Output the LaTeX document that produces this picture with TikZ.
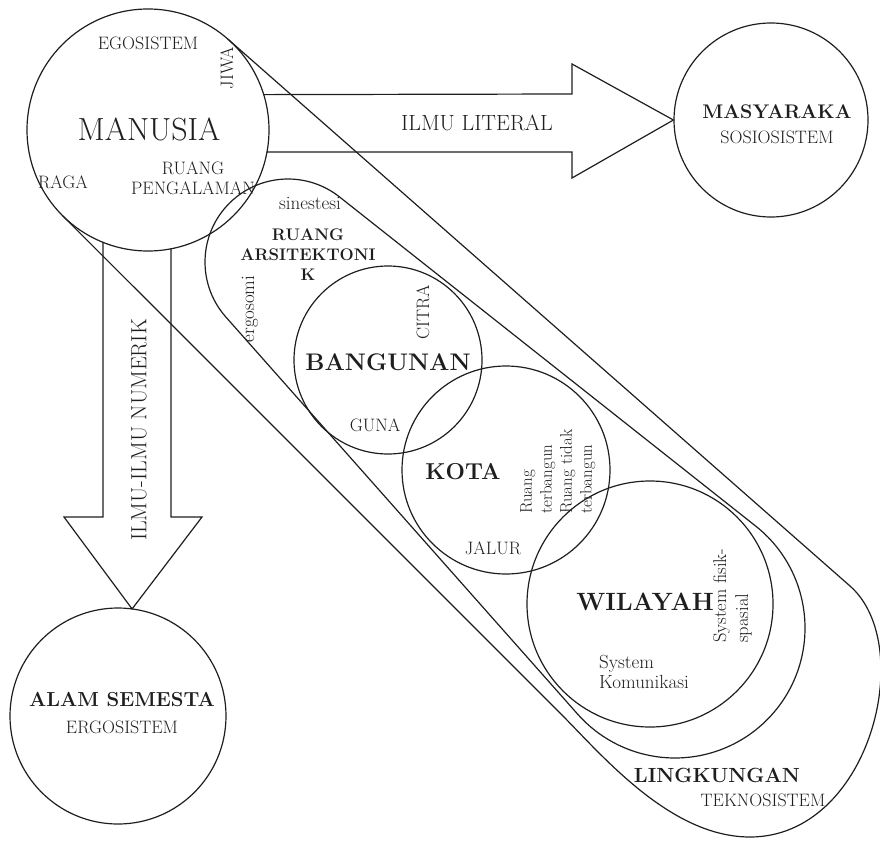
\documentclass[tikz,border=0pt]{standalone}
\usepackage{fontspec}
\usetikzlibrary{calc}
\definecolor{lkInk}{HTML}{1E1E1E}
\newcommand{\lkLineW}{1.2pt}
\newcommand{\lkFont}[2]{\fontsize{#1}{#2}\selectfont}
\tikzset{
  ring/.style={circle, draw=lkInk, line width=\lkLineW, minimum size=#1, inner sep=0pt},
  blockarr/.style={draw=lkInk, line width=\lkLineW, line join=miter},
  hull/.style={draw=lkInk, line width=\lkLineW},
  lbl/.style={text=lkInk, inner sep=0pt, font=\lkFont{18}{20}},
  small/.style={text=lkInk, inner sep=0pt, font=\lkFont{19}{20}},
  arrlbl/.style={text=lkInk, inner sep=0pt, font=\lkFont{22}{24}},
  ttl/.style={text=lkInk, inner sep=0pt, font=\bfseries\lkFont{#1}{24}},
}

\begin{document}
\begin{tikzpicture}[x=1pt, y=-1pt, line cap=round, line join=round]
  % page frame in pixel units (y grows downwards)
  \useasboundingbox (0,0) rectangle (880,840);

  % --- centres of the inner hull ends, ends of the outer hull ---
  \coordinate (ruangTop) at (288,262);
  \coordinate (ruangEnd) at (675,628);
  \coordinate (lingR) at (850,586);
  \coordinate (lingB) at (750,837);
  \coordinate (lingL) at (560,713);

  % --- circles ---
  \node[ring=242pt] (manusia) at (148,130) {};
  \node[ring=194pt] (masyaraka) at (771,120) {};
  \node[ring=216pt] (alam) at (118,716) {};
  \node[ring=188pt] (bangunan) at (388,360) {};
  \node[ring=208pt] (kota) at (506,470) {};
  \node[ring=246pt] (wilayah) at (650,604) {};

  % Lingkungan hull: from Manusia down to the rounded lower end
  \draw[hull] ($(manusia.center)+(-48.63:121)$) -- (lingR)
    .. controls (917.6,645.4) and (870,837) .. (lingB)
    .. controls (670,837) and (602,755) .. (lingL)
    -- ($(manusia.center)+(135.09:121)$);

  % Ruang arsitektonik hull
  \draw[hull] ($(ruangTop)+(-51.7:83)$) -- ($(ruangEnd)+(-51.7:130)$)
    arc[start angle=-51.7, end angle=138.5, radius=130]
    -- ($(ruangTop)+(138.5:83)$)
    arc[start angle=138.5, end angle=308.3, radius=83] -- cycle;

  % --- block arrows ---
  \draw[blockarr] ($(manusia.center)+(-17:121)$) -- (572,94) -- (572,64)
    -- (masyaraka.west) -- (572,178) -- (572,152)
    -- ($(manusia.center)+(10.5:121)$);
  \node[arrlbl] (literal) at (477,123) {ILMU LITERAL};

  \draw[blockarr] ($(manusia.center)+(111.8:121)$) -- (103,517) -- (64,517)
    -- ($(alam.center)+(-82.5:108)$) -- (202,517) -- (171,517)
    -- ($(manusia.center)+(79:121)$);
  \node[arrlbl, rotate=90] (numerik) at (139,430) {ILMU-ILMU NUMERIK};

  % --- Manusia ---
  \node[text=lkInk, inner sep=0pt, font=\lkFont{32}{34}] (manusiaLbl) at (149,129) {MANUSIA};
  \node[lbl] (egosistem) at (148,43) {EGOSISTEM};
  \node[lbl, rotate=90] (jiwa) at (227,68) {JIWA};
  \node[lbl] (raga) at (63,182) {RAGA};
  \node[lbl, align=center] (pengalaman) at (193,178) {RUANG\\PENGALAMAN};

  % --- Masyaraka / Alam semesta ---
  \node[ttl=19.7] (masyLbl) at (777,112) {MASYARAKA};
  \node[lbl] (sosio) at (777,137) {SOSIOSISTEM};
  \node[ttl=20.3] (alamLbl) at (122,700) {ALAM SEMESTA};
  \node[lbl] (ergo) at (122,727) {ERGOSISTEM};

  % --- Ruang arsitektonik ---
  \node[small] (sinestesi) at (310,203) {sinestesi};
  \node[ttl=16.8, align=center, font=\bfseries\lkFont{16.8}{20}] (arsLbl) at (308,255)
    {RUANG\\ARSITEKTONI\\K};
  \node[small, rotate=90] (ergosomi) at (250,309) {ergosomi};

  % --- Bangunan, Kota, Wilayah ---
  \node[ttl=24] (bangLbl) at (388,362) {BANGUNAN};
  \node[lbl, rotate=90] (citra) at (423,312) {CITRA};
  \node[lbl] (guna) at (375,425) {GUNA};

  \node[ttl=23] (kotaLbl) at (463,472) {KOTA};
  \node[lbl] (jalur) at (493,548) {JALUR};
  \node[small, rotate=90, anchor=north west, align=left, font=\lkFont{17}{20}]
    (terbangun) at (520,514) {Ruang\\terbangun\\Ruang tidak\\terbangun};

  \node[ttl=25] (wilLbl) at (645,602) {WILAYAH};
  \node[small, rotate=90, anchor=north west, align=left, font=\lkFont{18.5}{22}]
    (fisik) at (713,643) {System fisik-\\spasial};
  \node[small, anchor=west, align=left] (komunikasi) at (599,672) {System\\Komunikasi};

  % --- Lingkungan ---
  \node[ttl=20.5] (lingLbl) at (717,775) {LINGKUNGAN};
  \node[lbl] (tekno) at (763,800) {TEKNOSISTEM};
\end{tikzpicture}
\end{document}
